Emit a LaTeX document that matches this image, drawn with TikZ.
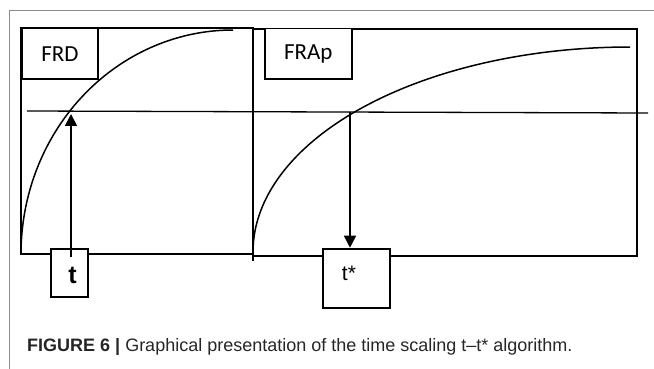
\documentclass[tikz,border=0pt]{standalone}
\usepackage{fontspec}
\setmainfont{Liberation Sans}
\newfontfamily\calfont{Carlito}
\usetikzlibrary{arrows.meta}
\tikzset{
  frameline/.style={draw=black!45, line width=1pt},
  panel/.style={draw=black, line width=1.8pt},
  curve/.style={draw=black, line width=1.5pt},
  levelline/.style={draw=black, line width=1.3pt},
  labelbox/.style={draw=black, line width=1.8pt, fill=white, inner sep=0pt, anchor=north west},
  arrowline/.style={draw=black, line width=1.7pt, -{Triangle[length=12pt,width=12pt]}}
}
\begin{document}
\begin{tikzpicture}[x=1pt,y=-1pt]
\useasboundingbox (0,0) rectangle (654,369);
% outer frame
\draw[frameline] (9,369) -- (9,11) -- (654,11);
% panels
\draw[panel] (20.7,27.7) rectangle (253,254);
\draw[panel] (253,29.3) -- (636.7,29.3) -- (636.7,256) -- (253,256) -- (253,261);
% curves
\draw[curve] plot[domain=0:90, samples=60, smooth] ({233-212*cos(\x)}, {254-224*sin(\x)});
\draw[curve] plot[domain=0:90, samples=60, smooth] ({630-377*cos(\x)}, {252-205*sin(\x)});
% level line
\coordinate (lvlA) at (27,111);
\coordinate (lvlB) at (648,113);
\draw[levelline] (lvlA) -- (lvlB);
% label boxes
\node[labelbox, minimum width=76.6pt, minimum height=50.3pt] (frd) at (20.7,27.7) {\calfont\fontsize{23}{25}\selectfont FRD};
\node[labelbox, minimum width=86.7pt, minimum height=50.3pt] (frap) at (264,27.7) {\calfont\fontsize{23}{25}\selectfont FRAp};
% t boxes
\node[labelbox, minimum width=37pt, minimum height=48.3pt] (tbox) at (50.3,247.7) {};
\node (tlabel) at (72.5,275) {\fontsize{25}{27}\selectfont\bfseries t};
\node[labelbox, minimum width=67pt, minimum height=59.6pt] (tsbox) at (322.3,247.7) {};
\node (tslabel) at (349,273) {\fontsize{21}{23}\selectfont t*};
% arrows
\coordinate (tin) at (71,256.7);
\coordinate (cross1) at (71,114);
\draw[arrowline] (tin) -- (cross1);
\coordinate (cross2) at (350,112);
\draw[arrowline] (cross2) -- (tsbox.north -| cross2);
% caption
\node[anchor=base west, inner sep=0pt, text=black!85] (caption) at (27,351) {\fontsize{18}{20}\selectfont\textbf{FIGURE 6 |} Graphical presentation of the time scaling t–t* algorithm.};
\end{tikzpicture}
\end{document}
